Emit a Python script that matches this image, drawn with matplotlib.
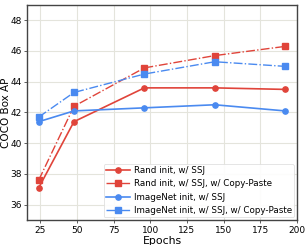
import numpy as np
from matplotlib import pyplot as plt

epochs = [24, 48, 96, 144, 192]
rand_ssj = [37.1, 41.4, 43.6, 43.6, 43.5]
rand_ssj_cp = [37.6, 42.4, 44.9, 45.7, 46.3]
imnet_ssj = [41.4, 42.1, 42.3, 42.5, 42.1]
imnet_ssj_cp = [41.7, 43.3, 44.5, 45.3, 45.0]

red = '#e0443a'
blue = '#4a8af0'

plt.rcParams['font.family'] = 'DejaVu Sans'
fig = plt.figure(figsize=(3.07, 2.45), dpi=100)
ax = fig.add_axes([0.088, 0.102, 0.879, 0.878])

ax.plot(epochs, rand_ssj, '-', color=red, marker='o', markersize=3.8, lw=1.2, label='Rand init, w/ SSJ')
ax.plot(epochs, rand_ssj_cp, '-.', color=red, marker='s', markersize=3.8, lw=1.0, label='Rand init, w/ SSJ, w/ Copy-Paste')
ax.plot(epochs, imnet_ssj, '-', color=blue, marker='o', markersize=3.8, lw=1.2, label='ImageNet init, w/ SSJ')
ax.plot(epochs, imnet_ssj_cp, '-.', color=blue, marker='s', markersize=3.8, lw=1.0, label='ImageNet init, w/ SSJ, w/ Copy-Paste')

ax.set_xlim(16, 200)
ax.set_ylim(35, 49)
ax.set_xticks([25, 50, 75, 100, 125, 150, 175, 200])
ax.set_yticks([36, 38, 40, 42, 44, 46, 48])
ax.tick_params(labelsize=6.5, length=2, width=0.6, color='#444444', pad=2)
ax.grid(True, color='#e4e4dc', lw=0.8)
for s in ax.spines.values():
    s.set_color('#444444')
    s.set_linewidth(1.0)
ax.set_xlabel('Epochs', fontsize=7.8, labelpad=1)
ax.set_ylabel('COCO Box AP', fontsize=7.5)
ax.yaxis.set_label_coords(-0.058, 0.5)

leg = ax.legend(loc='lower right', fontsize=6.3, framealpha=0.9, borderpad=0.25,
                labelspacing=0.5, handlelength=2.7, handletextpad=0.5, borderaxespad=0.3)
leg.get_frame().set_edgecolor('#dddddd')
leg.get_frame().set_linewidth(0.6)

plt.savefig('out.png', dpi=100)
